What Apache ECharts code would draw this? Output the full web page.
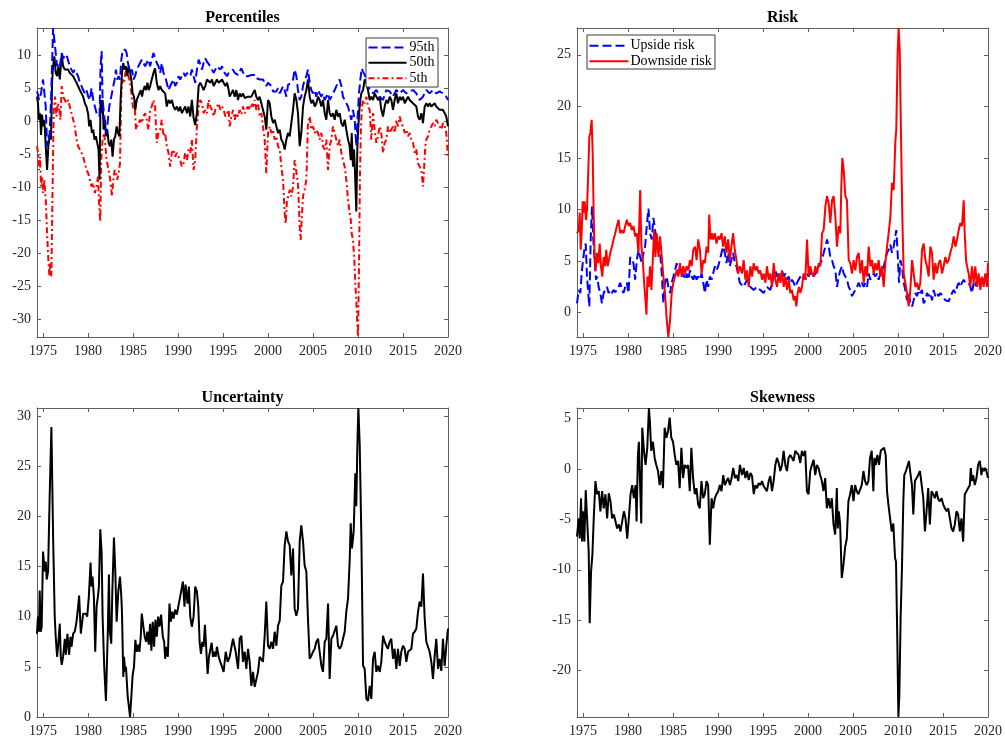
<!DOCTYPE html>
<html>
<head>
<meta charset="utf-8">
<title>Percentiles, Risk, Uncertainty, Skewness</title>
<script src="https://cdn.jsdelivr.net/npm/echarts@6/dist/echarts.min.js"></script>
<style>
  html, body { margin: 0; padding: 0; background: #fff; }
  #chart { width: 1005px; height: 740px; }
</style>
</head>
<body>
<div id="chart"></div>
<script>
// ---- tick labels ----
const yearTicks = [1975, 1980, 1985, 1990, 1995, 2000, 2005, 2010, 2015, 2020];
const pctTicks = [-30, -25, -20, -15, -10, -5, 0, 5, 10];
const riskTicks = [0, 5, 10, 15, 20, 25];
const uncTicks = [0, 5, 10, 15, 20, 25, 30];
const skewTicks = [-20, -15, -10, -5, 0, 5];

// ---- series: [year, value] ----
const p95 = [[1974.33,4.5],[1974.44,4.0],[1974.55,3.2],[1974.67,3.7],[1974.78,4.2],[1974.89,5.3],[1975.00,6.3],[1975.15,6.0],[1975.30,2.2],[1975.45,-3.8],[1975.59,-3.8],[1975.74,-1.8],[1975.89,3.2],[1976.00,8.3],[1976.12,14.1],[1976.26,12.3],[1976.41,10.3],[1976.56,8.3],[1976.71,8.8],[1976.86,8.3],[1977.08,10.3],[1977.23,9.5],[1977.42,9.8],[1977.60,10.1],[1977.79,10.3],[1977.97,8.3],[1978.16,7.8],[1978.35,7.3],[1978.53,7.8],[1978.72,7.5],[1978.90,6.8],[1979.09,5.8],[1979.28,5.3],[1979.46,4.7],[1979.65,4.2],[1979.83,4.7],[1980.02,3.7],[1980.20,3.2],[1980.39,5.0],[1980.58,3.2],[1980.76,2.2],[1980.95,1.2],[1981.13,1.0],[1981.28,0.7],[1981.39,8.3],[1981.51,10.6],[1981.62,3.2],[1981.77,1.2],[1981.91,-0.8],[1982.06,-1.8],[1982.21,0.2],[1982.36,2.2],[1982.51,3.2],[1982.66,3.2],[1982.81,5.3],[1982.96,6.3],[1983.10,7.8],[1983.25,6.3],[1983.40,6.8],[1983.55,6.3],[1983.70,9.3],[1983.85,10.8],[1984.00,11.1],[1984.15,10.8],[1984.29,10.3],[1984.44,8.8],[1984.59,7.8],[1984.74,7.3],[1984.89,7.8],[1985.04,6.3],[1985.22,6.8],[1985.41,7.8],[1985.59,8.3],[1985.78,8.8],[1985.97,9.3],[1986.15,9.0],[1986.34,8.3],[1986.52,8.8],[1986.71,9.3],[1986.90,8.3],[1987.08,9.3],[1987.27,10.3],[1987.45,10.6],[1987.64,8.8],[1987.83,8.3],[1988.01,7.3],[1988.20,8.8],[1988.38,7.3],[1988.57,6.8],[1988.75,5.8],[1988.94,4.7],[1989.13,5.3],[1989.31,5.8],[1989.50,6.3],[1989.68,5.3],[1989.87,5.8],[1990.06,6.8],[1990.24,6.3],[1990.43,6.8],[1990.61,7.3],[1990.80,6.8],[1990.99,7.3],[1991.17,7.5],[1991.36,6.8],[1991.54,7.8],[1991.73,6.8],[1991.91,5.8],[1992.10,7.8],[1992.29,9.3],[1992.47,9.0],[1992.66,7.8],[1992.84,8.8],[1993.03,9.5],[1993.22,9.0],[1993.40,8.8],[1993.59,8.3],[1993.77,7.8],[1993.96,7.3],[1994.14,7.8],[1994.33,8.3],[1994.52,8.0],[1994.70,7.8],[1994.89,8.3],[1995.07,7.5],[1995.26,7.3],[1995.45,6.8],[1995.63,7.3],[1995.74,7.0],[1996.11,7.8],[1996.30,7.3],[1996.48,7.5],[1996.67,7.0],[1996.85,7.3],[1997.04,8.0],[1997.22,7.8],[1997.41,6.8],[1997.59,7.0],[1997.78,6.8],[1997.96,6.8],[1998.15,7.0],[1998.33,6.8],[1998.52,7.0],[1998.70,6.5],[1998.89,6.8],[1999.07,6.3],[1999.26,6.0],[1999.44,6.3],[1999.63,5.8],[1999.81,5.3],[2000.00,5.8],[2000.19,5.5],[2000.37,5.3],[2000.56,4.5],[2000.74,4.7],[2000.93,4.5],[2001.11,5.0],[2001.30,4.2],[2001.48,4.7],[2001.67,5.3],[2001.85,4.7],[2002.04,3.7],[2002.22,5.5],[2002.41,5.3],[2002.59,5.8],[2002.78,6.3],[2002.96,7.8],[2003.15,6.8],[2003.33,4.7],[2003.52,3.2],[2003.70,3.7],[2003.89,5.3],[2004.07,6.3],[2004.26,6.8],[2004.44,7.8],[2004.63,5.8],[2004.81,4.7],[2005.00,4.2],[2005.19,4.7],[2005.37,3.7],[2005.56,4.7],[2005.74,4.2],[2005.93,3.7],[2006.11,4.2],[2006.30,3.2],[2006.48,3.7],[2006.67,4.2],[2006.85,3.2],[2007.04,3.7],[2007.22,4.2],[2007.41,4.7],[2007.59,5.3],[2007.78,5.8],[2007.96,6.3],[2008.15,5.3],[2008.33,3.7],[2008.52,3.2],[2008.70,2.7],[2008.89,2.2],[2009.07,1.2],[2009.26,0.2],[2009.44,1.7],[2009.63,0.2],[2009.81,-3.8],[2009.96,0.7],[2010.11,4.2],[2010.26,6.3],[2010.41,8.0],[2010.56,7.5],[2010.74,7.0],[2010.93,6.3],[2011.30,4.7],[2011.67,4.2],[2012.04,4.7],[2012.41,3.7],[2012.78,3.2],[2013.15,4.7],[2013.52,4.5],[2013.89,3.7],[2014.26,4.7],[2014.63,4.2],[2015.00,4.7],[2015.37,4.2],[2015.74,4.5],[2016.11,4.7],[2016.48,4.2],[2016.85,3.2],[2017.22,3.7],[2017.59,4.7],[2017.96,4.2],[2018.33,4.7],[2018.70,4.2],[2019.07,4.5],[2019.44,4.2],[2019.81,3.7],[2020.00,3.2]];

const p50 = [[1974.33,3.7],[1974.44,2.7],[1974.55,0.2],[1974.67,1.2],[1974.78,-2.1],[1974.89,1.0],[1975.00,-0.8],[1975.15,0.2],[1975.30,-3.8],[1975.45,-7.4],[1975.59,-3.8],[1975.74,-2.3],[1975.89,-2.8],[1976.00,5.8],[1976.12,8.3],[1976.26,9.8],[1976.41,7.3],[1976.56,6.8],[1976.71,8.3],[1976.86,6.3],[1977.08,10.1],[1977.23,8.3],[1977.42,7.8],[1977.60,8.0],[1977.79,7.8],[1977.97,7.3],[1978.16,7.3],[1978.35,6.8],[1978.53,6.3],[1978.72,5.8],[1978.90,5.3],[1979.09,4.7],[1979.28,4.2],[1979.46,3.7],[1979.65,2.7],[1979.83,2.2],[1980.02,1.0],[1980.13,-0.8],[1980.28,0.2],[1980.43,-1.8],[1980.58,-1.3],[1980.72,-2.8],[1980.87,-2.3],[1981.02,-3.3],[1981.17,-4.3],[1981.28,-8.9],[1981.39,3.2],[1981.51,1.2],[1981.62,3.2],[1981.73,-1.3],[1981.88,0.2],[1981.99,-2.3],[1982.14,-1.3],[1982.29,-3.3],[1982.43,-3.8],[1982.58,-2.8],[1982.73,-5.4],[1982.88,-2.8],[1983.03,-2.3],[1983.18,-0.8],[1983.33,-1.8],[1983.48,-2.3],[1983.62,3.2],[1983.77,7.3],[1983.92,8.8],[1984.07,7.8],[1984.22,8.3],[1984.37,6.8],[1984.52,8.3],[1984.67,7.5],[1984.81,6.3],[1984.96,4.2],[1985.11,3.7],[1985.26,1.7],[1985.41,3.2],[1985.56,3.7],[1985.71,4.2],[1985.86,4.7],[1986.00,3.7],[1986.15,4.7],[1986.30,5.3],[1986.45,4.7],[1986.60,5.8],[1986.75,4.7],[1986.90,5.3],[1987.08,6.3],[1987.27,7.3],[1987.45,8.0],[1987.64,5.8],[1987.83,4.7],[1988.01,5.3],[1988.20,4.7],[1988.38,4.7],[1988.57,4.2],[1988.75,2.2],[1988.94,3.2],[1989.13,2.7],[1989.31,3.2],[1989.50,2.2],[1989.68,1.7],[1989.87,2.2],[1990.06,1.5],[1990.24,2.2],[1990.43,1.2],[1990.61,1.7],[1990.80,2.2],[1990.99,1.2],[1991.17,2.2],[1991.36,0.7],[1991.54,3.2],[1991.73,0.5],[1991.91,-0.6],[1992.10,1.2],[1992.29,5.3],[1992.47,5.8],[1992.66,5.3],[1992.84,4.7],[1993.03,5.3],[1993.22,6.3],[1993.40,6.3],[1993.59,5.8],[1993.77,6.3],[1993.96,5.3],[1994.14,5.8],[1994.33,6.3],[1994.52,5.8],[1994.70,6.0],[1994.89,6.3],[1995.07,5.8],[1995.26,5.3],[1995.45,5.8],[1995.63,4.7],[1995.74,3.7],[1996.11,4.7],[1996.30,3.7],[1996.48,4.7],[1996.67,3.2],[1996.85,4.2],[1997.04,3.7],[1997.22,4.2],[1997.41,3.5],[1997.59,3.2],[1997.78,3.7],[1997.96,4.0],[1998.15,3.7],[1998.33,4.2],[1998.52,4.7],[1998.70,3.7],[1998.89,3.2],[1999.07,3.7],[1999.26,2.7],[1999.44,1.7],[1999.63,0.7],[1999.81,-1.3],[2000.00,3.2],[2000.19,2.7],[2000.37,0.7],[2000.56,-0.3],[2000.74,0.2],[2000.93,-0.8],[2001.11,-1.8],[2001.30,-1.3],[2001.48,-2.8],[2001.67,-3.3],[2001.85,-4.3],[2002.04,-2.8],[2002.22,-1.8],[2002.41,-2.3],[2002.59,-0.3],[2002.78,1.7],[2002.96,4.2],[2003.15,3.2],[2003.33,1.2],[2003.52,-3.8],[2003.70,-1.8],[2003.89,2.2],[2004.07,3.7],[2004.26,4.7],[2004.44,6.3],[2004.63,3.7],[2004.81,2.7],[2005.00,3.2],[2005.19,2.2],[2005.37,2.7],[2005.56,3.7],[2005.74,3.2],[2005.93,2.2],[2006.11,3.2],[2006.30,1.2],[2006.48,0.2],[2006.67,3.2],[2006.85,1.2],[2007.04,0.7],[2007.22,1.2],[2007.41,0.2],[2007.59,1.7],[2007.78,0.7],[2007.96,1.2],[2008.15,-0.3],[2008.33,-0.8],[2008.52,0.2],[2008.70,-1.3],[2008.89,-2.8],[2009.07,-3.8],[2009.19,-5.9],[2009.30,-1.8],[2009.44,-6.9],[2009.56,-4.3],[2009.67,-7.9],[2009.81,-13.7],[2009.93,-3.8],[2010.04,-0.8],[2010.15,1.7],[2010.26,3.2],[2010.37,4.2],[2010.56,4.7],[2010.74,6.3],[2010.93,5.8],[2011.11,4.7],[2011.30,3.2],[2011.48,3.7],[2011.67,3.2],[2011.85,4.2],[2012.04,3.7],[2012.22,3.2],[2012.41,3.7],[2012.59,1.7],[2012.78,0.7],[2012.96,2.2],[2013.15,3.2],[2013.33,2.7],[2013.52,3.7],[2013.70,3.2],[2013.89,1.7],[2014.07,3.2],[2014.26,4.2],[2014.44,2.7],[2014.63,3.7],[2014.81,3.2],[2015.00,3.7],[2015.19,2.7],[2015.37,3.2],[2015.56,3.7],[2015.74,3.2],[2015.93,3.2],[2016.11,2.7],[2016.30,2.7],[2016.48,2.2],[2016.67,0.7],[2016.85,0.2],[2017.04,1.2],[2017.22,-0.3],[2017.41,2.2],[2017.59,2.7],[2017.78,2.2],[2017.96,2.7],[2018.15,2.2],[2018.33,2.2],[2018.52,2.7],[2018.70,2.2],[2018.89,2.2],[2019.07,1.7],[2019.26,1.7],[2019.44,1.7],[2019.63,1.2],[2019.81,0.7],[2020.00,-0.8]];

const p5 = [[1974.33,-3.8],[1974.44,-4.8],[1974.55,-7.4],[1974.67,-5.4],[1974.78,-9.9],[1974.89,-8.4],[1975.00,-10.9],[1975.15,-8.9],[1975.30,-11.9],[1975.45,-17.0],[1975.59,-21.0],[1975.71,-23.5],[1975.82,-21.5],[1975.93,-23.5],[1976.04,-11.9],[1976.19,1.7],[1976.34,3.7],[1976.49,0.7],[1976.64,2.7],[1976.78,2.2],[1976.93,0.2],[1977.08,5.3],[1977.23,3.7],[1977.42,3.2],[1977.60,2.7],[1977.79,3.2],[1977.97,2.2],[1978.16,1.2],[1978.35,0.2],[1978.53,-0.8],[1978.72,-2.8],[1978.90,-3.8],[1979.09,-4.3],[1979.28,-4.8],[1979.46,-5.4],[1979.65,-6.4],[1979.83,-7.4],[1980.02,-7.9],[1980.20,-8.9],[1980.39,-9.9],[1980.58,-9.4],[1980.76,-10.9],[1980.95,-9.9],[1981.10,-8.4],[1981.25,-12.9],[1981.36,-15.2],[1981.47,-5.9],[1981.62,-2.8],[1981.77,-1.8],[1981.91,-3.3],[1982.06,-5.9],[1982.21,-6.9],[1982.36,-7.9],[1982.51,-9.4],[1982.66,-11.4],[1982.81,-8.9],[1982.96,-7.4],[1983.10,-7.9],[1983.25,-8.9],[1983.40,-7.9],[1983.55,-6.4],[1983.70,4.2],[1983.85,6.3],[1984.00,5.8],[1984.15,7.3],[1984.29,7.9],[1984.44,8.2],[1984.59,6.3],[1984.74,5.3],[1984.89,3.2],[1985.04,1.7],[1985.19,2.2],[1985.33,-1.3],[1985.48,-0.8],[1985.63,-0.3],[1985.78,0.2],[1985.97,-0.3],[1986.15,0.7],[1986.34,1.2],[1986.52,0.2],[1986.71,-1.3],[1986.90,1.7],[1987.08,2.2],[1987.27,3.2],[1987.45,2.2],[1987.64,-3.3],[1987.83,-1.8],[1988.01,-1.3],[1988.20,0.2],[1988.38,-2.3],[1988.57,-1.8],[1988.75,-3.8],[1988.94,-4.8],[1989.13,-6.9],[1989.31,-4.8],[1989.50,-4.3],[1989.68,-5.4],[1989.87,-4.8],[1990.06,-5.4],[1990.24,-5.9],[1990.43,-6.9],[1990.61,-6.4],[1990.80,-4.8],[1990.99,-5.9],[1991.17,-4.3],[1991.36,-4.8],[1991.54,-2.8],[1991.73,-7.4],[1991.91,-5.9],[1992.10,-0.8],[1992.29,2.2],[1992.47,3.2],[1992.66,2.7],[1992.84,1.2],[1993.03,1.7],[1993.22,1.2],[1993.40,3.2],[1993.59,2.2],[1993.77,1.7],[1993.96,0.7],[1994.14,1.7],[1994.33,2.2],[1994.52,2.7],[1994.70,1.7],[1994.89,2.2],[1995.07,1.7],[1995.26,0.7],[1995.45,1.2],[1995.63,1.7],[1995.74,-0.8],[1995.93,0.7],[1996.11,1.7],[1996.30,0.2],[1996.48,1.2],[1996.67,0.7],[1996.85,1.7],[1997.04,1.0],[1997.22,2.2],[1997.41,1.2],[1997.59,1.7],[1997.78,2.2],[1997.96,1.7],[1998.15,2.7],[1998.33,2.2],[1998.52,3.2],[1998.70,1.7],[1998.89,2.7],[1999.07,0.7],[1999.26,1.2],[1999.44,-0.8],[1999.63,-2.8],[1999.81,-7.9],[2000.00,-1.8],[2000.19,-0.8],[2000.37,-1.8],[2000.56,-1.3],[2000.74,-2.8],[2000.93,-2.3],[2001.11,-3.8],[2001.30,-4.3],[2001.48,-6.9],[2001.67,-8.9],[2001.85,-13.9],[2001.96,-15.5],[2002.11,-11.9],[2002.26,-11.4],[2002.41,-10.4],[2002.59,-11.4],[2002.78,-9.9],[2002.96,-5.9],[2003.15,-5.9],[2003.33,-9.4],[2003.52,-16.0],[2003.63,-18.0],[2003.74,-14.9],[2003.89,-11.4],[2004.07,-10.4],[2004.26,-8.9],[2004.44,-0.3],[2004.63,0.7],[2004.81,-1.3],[2005.00,-0.8],[2005.19,-1.8],[2005.37,-1.3],[2005.56,-1.8],[2005.74,-2.8],[2005.93,-1.8],[2006.11,-3.8],[2006.30,-4.3],[2006.48,-2.8],[2006.67,-7.4],[2006.85,-3.8],[2007.04,-2.8],[2007.22,-0.8],[2007.41,-1.8],[2007.59,-2.8],[2007.78,-3.8],[2007.96,-2.8],[2008.15,-4.8],[2008.33,-5.9],[2008.52,-6.9],[2008.70,-8.9],[2008.89,-11.9],[2009.07,-13.9],[2009.19,-14.9],[2009.30,-17.0],[2009.44,-18.0],[2009.59,-21.0],[2009.70,-24.5],[2009.81,-27.1],[2009.93,-31.1],[2010.00,-32.7],[2010.11,-22.0],[2010.22,-7.9],[2010.33,-0.8],[2010.44,2.2],[2010.56,3.2],[2010.74,2.7],[2010.93,3.7],[2011.11,2.2],[2011.30,1.7],[2011.48,-2.8],[2011.67,1.2],[2011.85,-1.3],[2012.04,-3.3],[2012.22,-2.3],[2012.41,-0.8],[2012.59,-1.8],[2012.78,-4.8],[2012.96,-3.3],[2013.15,-2.8],[2013.33,-0.8],[2013.52,-1.8],[2013.70,-1.3],[2013.89,-0.8],[2014.07,-1.8],[2014.26,0.2],[2014.44,-0.8],[2014.63,0.7],[2014.81,-0.3],[2015.00,-0.8],[2015.19,-1.8],[2015.37,-1.3],[2015.56,-2.3],[2015.74,-1.8],[2015.93,-2.8],[2016.11,-3.3],[2016.30,-4.8],[2016.48,-4.3],[2016.67,-6.4],[2016.85,-6.9],[2017.04,-7.4],[2017.22,-9.9],[2017.33,-7.4],[2017.48,-3.8],[2017.59,-2.8],[2017.78,-2.3],[2017.96,-1.3],[2018.15,-0.8],[2018.33,-0.3],[2018.52,-0.8],[2018.70,0.2],[2018.89,-0.3],[2019.07,-0.8],[2019.26,-1.3],[2019.44,-0.3],[2019.63,-0.8],[2019.81,-1.8],[2020.00,-5.6]];

const upsideRisk = [[1974.33,0.9],[1974.52,2.2],[1974.70,1.9],[1974.85,3.8],[1975.00,5.1],[1975.15,6.1],[1975.30,6.7],[1975.44,3.5],[1975.59,3.5],[1975.70,0.6],[1975.85,7.1],[1976.00,10.3],[1976.14,7.1],[1976.29,5.1],[1976.44,3.2],[1976.59,3.5],[1976.73,2.5],[1976.92,1.9],[1977.10,0.9],[1977.29,1.9],[1977.47,2.2],[1977.66,2.5],[1977.84,1.9],[1978.03,2.2],[1978.21,1.9],[1978.39,2.2],[1978.58,2.0],[1978.76,2.2],[1978.95,2.5],[1979.13,2.9],[1979.32,2.2],[1979.50,1.9],[1979.69,2.5],[1979.87,2.9],[1980.06,1.9],[1980.24,5.4],[1980.42,5.1],[1980.61,4.8],[1980.79,3.2],[1980.98,5.1],[1981.16,6.1],[1981.35,5.4],[1981.53,4.8],[1981.72,5.8],[1981.90,6.4],[1982.08,8.4],[1982.27,10.1],[1982.45,7.7],[1982.64,7.1],[1982.82,9.2],[1983.01,8.0],[1983.19,7.1],[1983.38,6.4],[1983.56,5.8],[1983.75,3.8],[1983.93,0.9],[1984.11,2.9],[1984.30,3.5],[1984.48,2.5],[1984.67,1.9],[1984.85,2.9],[1985.04,3.5],[1985.22,4.1],[1985.41,4.8],[1985.59,3.8],[1985.77,4.1],[1985.96,3.5],[1986.14,3.8],[1986.33,3.2],[1986.51,3.8],[1986.70,3.2],[1986.88,4.1],[1987.07,3.5],[1987.25,3.2],[1987.44,3.8],[1987.62,3.2],[1987.80,3.5],[1987.99,3.2],[1988.17,3.8],[1988.36,2.9],[1988.54,1.9],[1988.73,3.2],[1988.91,2.5],[1989.10,3.5],[1989.28,3.2],[1989.46,3.8],[1989.65,4.5],[1989.83,4.1],[1990.02,4.5],[1990.20,5.1],[1990.39,5.8],[1990.57,6.4],[1990.76,5.8],[1990.94,4.8],[1991.13,5.8],[1991.31,4.5],[1991.49,5.1],[1991.68,5.8],[1991.86,4.8],[1992.05,4.5],[1992.23,3.8],[1992.42,2.9],[1992.85,2.5],[1993.22,3.2],[1993.59,2.5],[1993.96,2.2],[1994.33,2.5],[1994.70,2.2],[1995.07,1.9],[1995.44,2.5],[1995.81,2.2],[1996.19,3.5],[1996.37,4.1],[1996.56,3.5],[1996.74,3.8],[1996.93,3.2],[1997.11,4.1],[1997.30,3.5],[1997.48,3.8],[1997.67,3.2],[1997.85,3.5],[1998.04,2.9],[1998.22,3.2],[1998.41,2.9],[1998.59,2.5],[1998.78,2.9],[1998.96,3.2],[1999.15,3.5],[1999.33,3.2],[1999.52,3.5],[1999.70,3.2],[1999.89,3.8],[2000.07,3.5],[2000.26,3.8],[2000.44,4.1],[2000.63,3.5],[2000.81,3.8],[2001.00,3.8],[2001.19,4.5],[2001.37,4.8],[2001.56,5.1],[2001.74,5.8],[2001.93,6.4],[2002.11,7.1],[2002.30,6.4],[2002.48,5.4],[2002.67,5.1],[2002.85,4.5],[2003.04,4.1],[2003.22,2.5],[2003.41,3.5],[2003.59,4.1],[2003.78,4.5],[2003.96,3.8],[2004.15,3.5],[2004.33,3.2],[2004.52,2.5],[2004.70,2.2],[2004.89,1.6],[2005.07,1.9],[2005.26,2.2],[2005.44,2.5],[2005.63,2.9],[2005.81,2.5],[2006.00,2.9],[2006.19,2.5],[2006.37,2.9],[2006.56,2.5],[2006.74,3.8],[2006.93,3.2],[2007.11,3.5],[2007.30,3.8],[2007.48,3.5],[2007.67,3.8],[2007.85,3.2],[2008.04,3.8],[2008.22,4.1],[2008.41,4.5],[2008.59,5.1],[2008.78,5.8],[2008.96,6.1],[2009.15,6.6],[2009.33,5.8],[2009.52,6.4],[2009.70,7.4],[2009.81,8.0],[2009.96,5.8],[2010.11,2.9],[2010.26,5.1],[2010.44,4.5],[2010.63,2.9],[2010.81,2.2],[2011.00,1.2],[2011.19,1.9],[2011.37,0.9],[2011.56,0.6],[2011.74,1.2],[2011.93,1.9],[2012.11,1.6],[2012.30,2.2],[2012.48,1.9],[2012.67,2.2],[2012.85,0.9],[2013.04,1.2],[2013.22,1.9],[2013.41,1.6],[2013.59,1.9],[2013.78,1.2],[2013.96,2.2],[2014.15,1.6],[2014.33,1.9],[2014.52,1.6],[2014.70,1.9],[2014.89,1.7],[2015.07,1.6],[2015.26,1.2],[2015.44,1.1],[2015.63,1.1],[2015.81,1.2],[2016.00,1.9],[2016.19,2.2],[2016.37,1.9],[2016.56,2.5],[2016.74,2.9],[2016.93,2.5],[2017.11,2.9],[2017.30,3.2],[2017.48,2.9],[2017.67,3.0],[2017.85,2.9],[2018.04,2.5],[2018.22,1.9],[2018.41,2.9],[2018.59,2.5],[2018.78,3.2],[2018.96,3.5],[2019.15,3.2],[2019.33,2.9],[2019.52,3.5],[2019.70,3.2],[2019.89,3.5],[2020.00,3.8]];

const downsideRisk = [[1974.33,7.7],[1974.52,8.0],[1974.63,9.7],[1974.74,6.1],[1974.85,7.7],[1974.96,10.8],[1975.07,9.7],[1975.18,10.8],[1975.33,9.0],[1975.44,10.0],[1975.59,13.9],[1975.70,17.1],[1975.81,17.4],[1975.96,18.7],[1976.07,15.5],[1976.18,9.7],[1976.29,5.1],[1976.40,4.1],[1976.55,5.8],[1976.70,4.8],[1976.85,6.7],[1976.99,4.5],[1977.14,3.5],[1977.29,5.4],[1977.44,4.5],[1977.58,6.1],[1977.73,4.5],[1977.88,5.1],[1978.03,5.8],[1978.21,6.4],[1978.39,7.1],[1978.58,7.7],[1978.76,8.4],[1978.95,9.0],[1979.13,7.7],[1979.32,8.0],[1979.50,7.7],[1979.69,8.4],[1979.87,9.0],[1980.06,8.4],[1980.24,8.7],[1980.42,8.0],[1980.61,8.4],[1980.79,7.4],[1980.98,7.7],[1981.16,5.8],[1981.35,11.9],[1981.49,6.4],[1981.64,5.1],[1981.79,2.9],[1981.94,1.2],[1982.05,-0.2],[1982.16,3.5],[1982.31,2.5],[1982.45,4.5],[1982.60,2.2],[1982.75,5.1],[1982.90,8.0],[1983.04,5.4],[1983.19,7.7],[1983.38,5.4],[1983.56,7.4],[1983.75,5.4],[1983.93,3.5],[1984.11,1.9],[1984.30,-0.7],[1984.48,-2.36],[1984.67,-0.7],[1984.85,1.9],[1985.04,2.9],[1985.22,3.5],[1985.41,4.1],[1985.59,3.5],[1985.77,4.8],[1985.96,3.5],[1986.14,4.5],[1986.33,3.8],[1986.51,4.5],[1986.70,4.1],[1986.88,5.1],[1987.07,4.5],[1987.25,6.1],[1987.44,6.4],[1987.62,5.1],[1987.80,7.1],[1987.99,6.1],[1988.17,3.8],[1988.36,5.1],[1988.54,4.8],[1988.73,6.4],[1988.91,5.8],[1989.02,9.5],[1989.17,7.1],[1989.32,7.7],[1989.46,7.1],[1989.65,7.7],[1989.83,6.7],[1990.02,7.4],[1990.20,7.1],[1990.39,7.7],[1990.57,6.4],[1990.76,7.4],[1990.94,5.8],[1991.13,7.1],[1991.31,5.1],[1991.49,6.4],[1991.68,7.7],[1991.86,6.1],[1992.05,5.1],[1992.23,3.8],[1992.42,4.5],[1992.67,3.8],[1992.85,5.1],[1993.04,3.2],[1993.22,4.1],[1993.41,2.5],[1993.59,4.5],[1993.78,3.5],[1993.96,4.8],[1994.15,4.1],[1994.33,4.5],[1994.52,3.8],[1994.70,4.1],[1994.89,3.2],[1995.07,3.8],[1995.26,2.9],[1995.44,4.5],[1995.63,3.2],[1995.81,3.8],[1996.00,2.5],[1996.19,4.8],[1996.37,3.2],[1996.56,2.5],[1996.74,3.8],[1996.93,2.9],[1997.11,4.1],[1997.30,2.5],[1997.48,3.5],[1997.67,2.2],[1997.85,3.2],[1998.04,1.9],[1998.22,2.2],[1998.41,1.2],[1998.59,1.6],[1998.70,0.6],[1998.85,1.9],[1999.00,2.5],[1999.15,1.9],[1999.33,2.5],[1999.52,3.8],[1999.70,3.2],[1999.89,7.1],[2000.07,3.5],[2000.26,4.5],[2000.44,3.8],[2000.63,3.5],[2000.81,4.5],[2001.00,3.8],[2001.19,4.8],[2001.37,4.5],[2001.56,7.7],[2001.74,8.0],[2001.93,10.3],[2002.11,11.3],[2002.30,10.6],[2002.48,8.7],[2002.67,10.9],[2002.85,11.3],[2003.04,9.3],[2003.22,6.4],[2003.41,8.4],[2003.59,7.7],[2003.70,12.2],[2003.81,15.0],[2003.96,13.9],[2004.15,11.3],[2004.33,10.9],[2004.52,5.1],[2004.70,4.8],[2004.89,3.8],[2005.07,5.1],[2005.26,4.1],[2005.44,5.4],[2005.63,5.8],[2005.81,3.8],[2006.00,5.1],[2006.19,2.9],[2006.37,4.5],[2006.56,3.5],[2006.74,6.4],[2006.93,4.5],[2007.11,5.1],[2007.30,3.8],[2007.48,4.8],[2007.67,4.1],[2007.85,5.1],[2008.04,3.5],[2008.22,4.5],[2008.41,2.5],[2008.59,4.8],[2008.78,6.4],[2008.96,7.7],[2009.15,9.3],[2009.33,12.6],[2009.52,11.9],[2009.70,16.5],[2009.81,17.8],[2009.96,25.2],[2010.07,27.6],[2010.19,25.5],[2010.33,17.4],[2010.48,9.3],[2010.63,3.8],[2010.81,2.9],[2011.00,1.9],[2011.19,0.6],[2011.37,2.2],[2011.56,5.1],[2011.74,3.8],[2011.93,2.5],[2012.11,2.9],[2012.30,2.2],[2012.48,2.9],[2012.67,6.1],[2012.85,6.7],[2013.04,5.1],[2013.22,4.5],[2013.41,3.5],[2013.59,6.4],[2013.78,5.8],[2013.96,3.2],[2014.15,4.8],[2014.33,3.8],[2014.52,4.8],[2014.70,5.1],[2014.89,3.8],[2015.07,4.5],[2015.26,5.4],[2015.44,4.8],[2015.63,5.1],[2015.81,5.8],[2016.00,6.4],[2016.19,7.4],[2016.37,6.4],[2016.56,7.1],[2016.74,8.0],[2016.93,8.7],[2017.11,8.4],[2017.30,10.9],[2017.41,7.7],[2017.56,5.1],[2017.67,4.5],[2017.85,3.8],[2018.04,2.5],[2018.22,4.5],[2018.41,2.9],[2018.59,4.5],[2018.78,2.5],[2018.96,3.8],[2019.15,2.2],[2019.33,3.5],[2019.52,2.5],[2019.70,3.8],[2019.89,2.5],[2020.00,4.8]];

const uncertainty = [[1974.33,8.3],[1974.44,10.0],[1974.55,8.5],[1974.63,12.6],[1974.74,8.5],[1974.85,9.0],[1975.00,16.5],[1975.19,14.5],[1975.30,15.5],[1975.41,13.7],[1975.56,14.5],[1975.74,22.1],[1975.93,28.9],[1976.00,28.9],[1976.12,18.0],[1976.30,10.0],[1976.41,8.0],[1976.56,6.0],[1976.67,7.0],[1976.86,9.3],[1976.97,6.0],[1977.08,5.2],[1977.23,6.0],[1977.42,7.8],[1977.53,6.2],[1977.71,8.3],[1977.90,6.2],[1978.05,8.0],[1978.16,7.0],[1978.35,8.3],[1978.53,8.5],[1978.72,9.5],[1978.90,11.0],[1979.01,12.1],[1979.20,8.3],[1979.46,10.3],[1979.76,10.3],[1979.91,10.0],[1980.09,12.0],[1980.28,15.4],[1980.39,13.0],[1980.50,14.0],[1980.65,12.0],[1980.80,6.5],[1980.95,11.0],[1981.10,12.0],[1981.21,13.0],[1981.36,18.7],[1981.51,16.4],[1981.62,10.0],[1981.80,5.0],[1981.99,1.6],[1982.21,9.0],[1982.32,14.2],[1982.43,8.5],[1982.58,7.3],[1982.70,12.5],[1982.88,17.9],[1983.03,14.5],[1983.18,9.5],[1983.36,12.5],[1983.55,14.0],[1983.70,12.0],[1983.77,10.5],[1983.92,4.0],[1984.00,6.0],[1984.14,4.5],[1984.22,5.0],[1984.41,2.0],[1984.48,1.5],[1984.67,0.0],[1984.81,2.0],[1984.96,4.2],[1985.11,5.0],[1985.26,7.7],[1985.41,6.5],[1985.56,7.2],[1985.71,6.5],[1985.86,8.0],[1985.97,10.3],[1986.15,9.0],[1986.30,8.0],[1986.45,7.5],[1986.60,8.5],[1986.75,7.2],[1986.90,9.3],[1987.04,6.6],[1987.19,9.5],[1987.34,7.0],[1987.49,9.7],[1987.64,8.0],[1987.79,10.0],[1987.94,9.0],[1988.12,10.2],[1988.31,8.0],[1988.46,7.5],[1988.57,5.8],[1988.72,7.0],[1988.87,6.0],[1989.05,11.3],[1989.20,9.5],[1989.35,10.5],[1989.50,9.8],[1989.68,10.7],[1989.87,10.2],[1990.09,11.3],[1990.24,12.0],[1990.54,13.5],[1990.72,11.0],[1990.84,13.2],[1991.06,11.3],[1991.21,13.0],[1991.36,10.0],[1991.54,9.0],[1991.73,10.0],[1991.91,13.0],[1992.10,12.5],[1992.25,11.0],[1992.40,7.5],[1992.55,6.3],[1992.70,7.5],[1992.84,7.0],[1992.99,9.2],[1993.14,9.2],[1993.29,4.3],[1993.44,6.0],[1993.59,6.0],[1993.74,7.4],[1993.88,6.0],[1994.03,6.5],[1994.18,6.0],[1994.33,7.0],[1994.52,6.0],[1994.70,5.5],[1994.89,5.0],[1995.07,4.5],[1995.30,6.5],[1995.52,5.5],[1995.74,6.0],[1996.11,7.8],[1996.41,6.5],[1996.67,4.8],[1996.85,7.8],[1997.04,8.1],[1997.22,5.5],[1997.41,6.5],[1997.59,4.8],[1997.78,6.8],[1997.96,5.5],[1998.15,3.1],[1998.33,4.5],[1998.52,3.0],[1998.70,3.1],[1998.89,4.5],[1999.07,6.0],[1999.26,6.1],[1999.44,5.5],[1999.63,8.1],[1999.81,11.5],[2000.00,7.1],[2000.19,6.8],[2000.37,7.5],[2000.56,6.8],[2000.74,8.5],[2000.93,7.1],[2001.11,9.1],[2001.30,9.6],[2001.48,13.1],[2001.67,13.5],[2001.85,17.1],[2002.04,18.5],[2002.22,17.5],[2002.41,17.1],[2002.59,14.1],[2002.78,16.8],[2002.96,10.8],[2003.15,10.1],[2003.33,10.8],[2003.52,17.5],[2003.70,19.1],[2003.89,17.5],[2004.07,15.1],[2004.26,14.5],[2004.44,9.8],[2004.63,5.8],[2004.81,6.1],[2005.00,6.5],[2005.19,6.8],[2005.37,7.5],[2005.56,7.8],[2005.74,6.5],[2005.93,5.1],[2006.11,4.5],[2006.30,7.5],[2006.48,7.8],[2006.67,11.3],[2006.85,3.8],[2007.04,7.8],[2007.22,8.1],[2007.41,8.1],[2007.59,9.1],[2007.78,7.1],[2007.96,6.8],[2008.15,7.1],[2008.33,7.8],[2008.52,8.5],[2008.70,10.5],[2008.89,11.8],[2009.07,15.5],[2009.19,19.3],[2009.33,16.8],[2009.52,18.5],[2009.70,24.3],[2009.81,21.0],[2009.93,27.1],[2010.04,30.8],[2010.19,27.1],[2010.37,18.1],[2010.56,5.1],[2010.74,4.8],[2010.93,1.8],[2011.11,1.6],[2011.30,3.1],[2011.48,1.8],[2011.67,5.8],[2011.85,6.5],[2012.04,4.5],[2012.22,5.1],[2012.41,4.5],[2012.59,5.5],[2012.78,8.1],[2012.96,7.5],[2013.15,7.1],[2013.33,6.8],[2013.52,7.5],[2013.70,7.8],[2013.89,5.8],[2014.07,6.8],[2014.26,4.8],[2014.44,6.8],[2014.63,5.1],[2014.81,6.5],[2015.00,7.1],[2015.19,6.8],[2015.37,5.5],[2015.56,6.5],[2015.74,6.5],[2015.93,6.8],[2016.11,8.3],[2016.30,8.5],[2016.48,8.8],[2016.67,10.5],[2016.85,11.5],[2017.04,11.0],[2017.22,14.3],[2017.41,9.8],[2017.59,7.5],[2017.78,7.6],[2017.96,6.5],[2018.15,5.5],[2018.33,3.8],[2018.52,6.1],[2018.70,7.8],[2018.89,4.8],[2019.07,5.8],[2019.26,4.6],[2019.44,7.8],[2019.63,5.1],[2019.81,7.1],[2020.00,8.8]];

const skewness = [[1974.33,-6.7],[1974.52,-4.9],[1974.63,-6.9],[1974.78,-2.9],[1974.89,-7.2],[1975.00,-4.2],[1975.15,-7.2],[1975.30,-2.1],[1975.45,-4.9],[1975.63,-8.2],[1975.74,-15.3],[1975.89,-10.2],[1976.04,-8.5],[1976.19,-4.9],[1976.38,-1.2],[1976.56,-2.5],[1976.75,-2.2],[1976.93,-4.2],[1977.12,-2.2],[1977.30,-3.9],[1977.49,-2.5],[1977.68,-4.9],[1977.86,-2.4],[1978.05,-3.2],[1978.23,-4.9],[1978.42,-4.5],[1978.61,-5.2],[1978.79,-5.9],[1978.98,-5.5],[1979.16,-6.2],[1979.35,-5.2],[1979.54,-4.2],[1979.72,-4.9],[1979.91,-6.9],[1980.09,-4.9],[1980.28,-2.5],[1980.46,-1.6],[1980.65,-2.9],[1980.84,-1.6],[1980.95,-5.2],[1981.10,1.4],[1981.21,2.7],[1981.32,-0.9],[1981.47,-5.4],[1981.58,4.1],[1981.77,1.8],[1981.95,0.4],[1982.14,2.1],[1982.32,6.05],[1982.43,4.7],[1982.58,1.8],[1982.77,2.7],[1982.96,1.1],[1983.14,0.4],[1983.33,-0.2],[1983.51,-1.6],[1983.70,-0.2],[1983.88,-1.9],[1984.07,4.1],[1984.26,3.1],[1984.44,3.7],[1984.63,5.1],[1984.81,3.1],[1985.00,2.7],[1985.19,1.4],[1985.37,0.4],[1985.56,0.8],[1985.74,-1.9],[1985.93,2.1],[1986.12,-0.9],[1986.30,0.4],[1986.49,0.1],[1986.67,0.4],[1986.86,-2.2],[1987.04,2.1],[1987.23,-0.9],[1987.42,-2.5],[1987.60,-1.9],[1987.79,-3.5],[1987.97,-3.9],[1988.16,-1.2],[1988.35,-2.9],[1988.53,-2.5],[1988.72,-1.2],[1988.90,-1.6],[1989.09,-7.5],[1989.28,-2.9],[1989.46,-3.9],[1989.65,-2.9],[1989.83,-2.5],[1990.02,-2.2],[1990.20,-1.6],[1990.39,-2.2],[1990.58,-0.6],[1990.76,-1.6],[1990.95,-1.2],[1991.13,-0.9],[1991.32,-1.6],[1991.51,-0.9],[1991.69,0.1],[1991.88,-0.9],[1992.06,-0.6],[1992.25,-1.2],[1992.43,0.4],[1992.67,-0.6],[1992.86,0.1],[1993.04,-0.9],[1993.23,-0.2],[1993.41,-1.1],[1993.60,-0.4],[1993.78,-0.7],[1993.97,-2.5],[1994.15,-1.6],[1994.34,-1.9],[1994.52,-1.4],[1994.70,-1.6],[1994.89,-1.2],[1995.07,-1.7],[1995.26,-1.6],[1995.44,-2.2],[1995.63,-1.2],[1995.81,-0.7],[1996.00,-2.2],[1996.18,-1.2],[1996.37,0.4],[1996.55,1.1],[1996.74,0.6],[1996.92,-0.2],[1997.11,0.4],[1997.29,1.8],[1997.48,0.4],[1997.66,-0.2],[1997.84,1.1],[1998.03,1.4],[1998.21,1.3],[1998.40,0.8],[1998.58,1.8],[1998.77,1.9],[1998.95,1.4],[1999.14,0.6],[1999.32,1.8],[1999.51,1.3],[1999.69,1.8],[1999.88,-2.2],[2000.06,-2.5],[2000.25,-0.2],[2000.43,0.4],[2000.62,0.9],[2000.80,-0.6],[2000.98,0.4],[2001.17,0.1],[2001.35,-0.6],[2001.54,-1.2],[2001.72,-2.2],[2001.91,-0.9],[2002.09,-3.9],[2002.28,-2.9],[2002.46,-3.9],[2002.65,-2.9],[2002.83,-5.5],[2003.02,-6.5],[2003.20,-1.9],[2003.31,-5.9],[2003.42,-4.2],[2003.57,-5.5],[2003.75,-10.8],[2003.94,-9.5],[2004.12,-7.8],[2004.31,-6.9],[2004.49,-3.2],[2004.68,-2.5],[2004.86,-1.6],[2005.05,-3.2],[2005.23,-1.6],[2005.42,-2.2],[2005.60,-2.5],[2005.79,-2.5],[2005.97,-1.6],[2006.16,-0.2],[2006.34,-1.2],[2006.53,-1.6],[2006.71,-1.2],[2006.89,1.1],[2007.08,1.8],[2007.26,-2.2],[2007.38,1.1],[2007.52,0.4],[2007.71,1.4],[2007.89,0.4],[2008.08,1.8],[2008.26,1.9],[2008.45,2.1],[2008.63,1.4],[2008.78,-2.2],[2008.93,-3.5],[2009.30,-6.2],[2009.48,-5.4],[2009.67,-8.8],[2009.78,-9.2],[2009.92,-16.8],[2010.04,-24.6],[2010.15,-22.4],[2010.29,-14.8],[2010.44,-9.8],[2010.59,-3.2],[2010.70,-0.6],[2010.88,-0.2],[2011.07,-0.2],[2011.22,0.8],[2011.40,-0.6],[2011.55,-1.6],[2011.70,-4.5],[2011.88,-1.2],[2012.07,-0.9],[2012.25,-0.6],[2012.44,-0.2],[2012.62,-0.1],[2012.81,-2.9],[2012.99,-6.2],[2013.17,-4.2],[2013.36,-1.9],[2013.54,-5.5],[2013.73,-2.2],[2013.91,-2.5],[2014.10,-2.9],[2014.28,-2.2],[2014.47,-3.0],[2014.65,-3.2],[2014.84,-2.9],[2015.02,-3.5],[2015.21,-3.9],[2015.39,-4.2],[2015.58,-3.9],[2015.76,-4.9],[2015.95,-5.9],[2016.13,-6.2],[2016.31,-5.5],[2016.50,-4.2],[2016.68,-4.5],[2016.87,-6.2],[2017.05,-4.9],[2017.24,-7.2],[2017.42,-2.5],[2017.61,-2.2],[2017.79,-1.9],[2017.98,-1.6],[2018.09,0.1],[2018.20,-1.2],[2018.35,-0.6],[2018.53,-1.6],[2018.72,-0.9],[2018.90,0.4],[2019.09,0.8],[2019.27,-0.6],[2019.38,0.1],[2019.53,-0.2],[2019.68,0.1],[2019.82,-0.2],[2020.00,-0.9]];

// ---- styling / layout ----
const FONT = '"Liberation Serif", "Times New Roman", serif';
const AXIS_COLOR = '#5f5f5f';
const LABEL_COLOR = '#262626';
const X_MIN = 1974.33, X_MAX = 2020;
const DASH = [9, 4];
const DASH_DOT = [6, 3, 2, 3];

const grids = [
  { left: 37,  top: 28,  width: 411, height: 309 },
  { left: 577, top: 28,  width: 411, height: 309 },
  { left: 37,  top: 408, width: 411, height: 309 },
  { left: 577, top: 408, width: 411, height: 309 }
];

function xPair(g) {
  const base = {
    type: 'value', gridIndex: g, min: X_MIN, max: X_MAX,
    splitLine: { show: false },
    axisLine: { onZero: false, lineStyle: { color: AXIS_COLOR, width: 1 } },
    axisTick: { inside: true, length: 4, customValues: yearTicks, lineStyle: { color: AXIS_COLOR } }
  };
  return [
    Object.assign({}, base, {
      position: 'bottom',
      axisLabel: { customValues: yearTicks, fontFamily: FONT, fontSize: 14, color: LABEL_COLOR, margin: 7,
                   formatter: v => String(v) }
    }),
    Object.assign({}, base, { position: 'top', axisLabel: { show: false } })
  ];
}

function yPair(g, min, max, ticks) {
  const base = {
    type: 'value', gridIndex: g, min: min, max: max,
    splitLine: { show: false },
    axisLine: { onZero: false, lineStyle: { color: AXIS_COLOR, width: 1 } },
    axisTick: { inside: true, length: 4, customValues: ticks, lineStyle: { color: AXIS_COLOR } }
  };
  return [
    Object.assign({}, base, {
      position: 'left',
      axisLabel: { customValues: ticks, fontFamily: FONT, fontSize: 14, color: LABEL_COLOR, margin: 6,
                   formatter: v => String(v) }
    }),
    Object.assign({}, base, { position: 'right', axisLabel: { show: false } })
  ];
}

function line(name, data, g, color, type) {
  return {
    name: name, type: 'line', data: data,
    xAxisIndex: 2 * g, yAxisIndex: 2 * g,
    showSymbol: false, symbol: 'none',
    lineStyle: { color: color, width: 2, type: type },
    z: 3
  };
}

function title(text, cx, cy) {
  return { type: 'text', x: cx, y: cy, z: 100,
           style: { text: text, font: 'bold 16px ' + FONT, fill: '#000',
                    align: 'center', verticalAlign: 'middle',
                    textAlign: 'center', textVerticalAlign: 'middle' } };
}

function legendBox(x, y, w, h, rows, lineX1, lineX2, textX) {
  const els = [{ type: 'rect', z: 100, shape: { x: x, y: y, width: w, height: h },
                 style: { fill: '#fff', stroke: '#3a3a3a', lineWidth: 1 } }];
  rows.forEach(r => {
    els.push({ type: 'line', z: 101,
               shape: { x1: lineX1, y1: r.y, x2: lineX2, y2: r.y },
               style: { stroke: r.color, lineWidth: 2, lineDash: r.dash || null } });
    els.push({ type: 'text', z: 101, x: textX, y: r.y,
               style: { text: r.label, font: '14px ' + FONT, fill: '#000',
                        align: 'left', verticalAlign: 'middle',
                        textAlign: 'left', textVerticalAlign: 'middle' } });
  });
  return els;
}

const xAxes = [].concat(xPair(0), xPair(1), xPair(2), xPair(3));
const yAxes = [].concat(
  yPair(0, -32.7, 14.1, pctTicks),
  yPair(1, -2.36, 27.6, riskTicks),
  yPair(2, 0, 30.8, uncTicks),
  yPair(3, -24.6, 6.05, skewTicks)
);

const option = {
  animation: false,
  backgroundColor: '#fff',
  grid: grids,
  xAxis: xAxes,
  yAxis: yAxes,
  series: [
    line('5th', p5, 0, '#ff0000', DASH_DOT),
    line('50th', p50, 0, '#000000', 'solid'),
    line('95th', p95, 0, '#0000ff', DASH),
    line('Upside risk', upsideRisk, 1, '#0000ff', DASH),
    line('Downside risk', downsideRisk, 1, '#ff0000', 'solid'),
    line('Uncertainty', uncertainty, 2, '#000000', 'solid'),
    line('Skewness', skewness, 3, '#000000', 'solid')
  ],
  graphic: [].concat(
    [title('Percentiles', 242.5, 18), title('Risk', 782.5, 18),
     title('Uncertainty', 242.5, 398), title('Skewness', 782.5, 398)],
    legendBox(366, 38, 72, 49, [
      { label: '95th', color: '#0000ff', dash: DASH, y: 47.5 },
      { label: '50th', color: '#000000', y: 62.8 },
      { label: '5th', color: '#ff0000', dash: DASH_DOT, y: 78.3 }
    ], 368.5, 406.5, 409.5),
    legendBox(587, 35, 128, 34, [
      { label: 'Upside risk', color: '#0000ff', dash: DASH, y: 45.8 },
      { label: 'Downside risk', color: '#ff0000', y: 61.2 }
    ], 589.5, 628.5, 630.5)
  )
};

const chart = echarts.init(document.getElementById('chart'), null, { renderer: 'canvas' });
chart.setOption(option);
</script>
</body>
</html>
